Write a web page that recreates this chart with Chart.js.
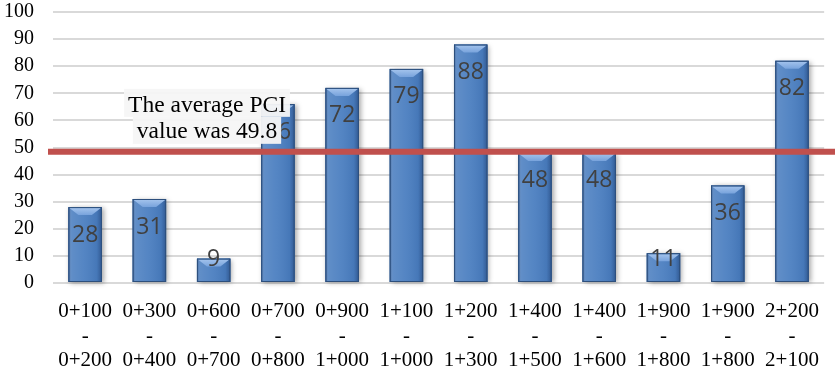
<!DOCTYPE html>
<html>
<head>
<meta charset="utf-8">
<script src="https://cdn.jsdelivr.net/npm/chart.js@4.4.0/dist/chart.umd.min.js"></script>
<style>
  html, body { margin: 0; padding: 0; background: #fff; }
  #wrap { width: 835px; height: 373px; position: relative; }
</style>
</head>
<body>
<div id="wrap"><canvas id="pciChart"></canvas></div>
<script>
// road sections (start - end) and PCI value of each
const sections = [
  ["0+100", "-", "0+200"], ["0+300", "-", "0+400"], ["0+600", "-", "0+700"],
  ["0+700", "-", "0+800"], ["0+900", "-", "1+000"], ["1+100", "-", "1+000"],
  ["1+200", "-", "1+300"], ["1+400", "-", "1+500"], ["1+400", "-", "1+600"],
  ["1+900", "-", "1+800"], ["1+900", "-", "1+800"], ["2+200", "-", "2+100"]
];
const pciValues = [28, 31, 9, 66, 72, 79, 88, 48, 48, 11, 36, 82];
const yMin = 0;
const yMax = 100;
const yStep = 10;
// red reference line (drawn where the picture shows it) and its note
const averageLine = 48.4;
const averageNote = ["The average PCI", "value was 49.8"];

const serif = "'Liberation Serif', 'Times New Roman', serif";

// shading, bevel and shadow on top of the plain bars
const barLook = {
  id: "barLook",
  beforeDatasetsDraw(chart) {
    const ctx = chart.ctx;
    const meta = chart.getDatasetMeta(0);
    ctx.save();
    ctx.shadowColor = "rgba(0,0,0,0.35)";
    ctx.shadowBlur = 5;
    ctx.shadowOffsetX = 2;
    ctx.shadowOffsetY = 1;
    ctx.fillStyle = "#3b679e";
    meta.data.forEach((bar) => {
      const left = bar.x - bar.width / 2;
      ctx.fillRect(left, bar.y, bar.width, bar.base - bar.y);
    });
    ctx.restore();
  },
  afterDatasetsDraw(chart) {
    const ctx = chart.ctx;
    const meta = chart.getDatasetMeta(0);
    ctx.save();
    meta.data.forEach((bar) => {
      const left = bar.x - bar.width / 2;
      const right = bar.x + bar.width / 2;
      const h = bar.base - bar.y;
      // side shading
      const g = ctx.createLinearGradient(left, 0, right, 0);
      g.addColorStop(0, "rgba(20,45,90,0.45)");
      g.addColorStop(0.1, "rgba(255,255,255,0.12)");
      g.addColorStop(0.45, "rgba(255,255,255,0.06)");
      g.addColorStop(0.85, "rgba(20,45,90,0.08)");
      g.addColorStop(1, "rgba(20,45,90,0.45)");
      ctx.fillStyle = g;
      ctx.fillRect(left, bar.y, bar.width, h);
      // top bevel
      const bev = Math.min(8, h / 2);
      const tg = ctx.createLinearGradient(0, bar.y, 0, bar.y + bev);
      tg.addColorStop(0, "#a7c6ee");
      tg.addColorStop(1, "#78a3dc");
      ctx.fillStyle = tg;
      ctx.beginPath();
      ctx.moveTo(left + 1, bar.y + 1);
      ctx.lineTo(right - 1, bar.y + 1);
      ctx.lineTo(right - 10, bar.y + bev);
      ctx.lineTo(left + 10, bar.y + bev);
      ctx.closePath();
      ctx.fill();
      ctx.strokeStyle = "#2d4f7c";
      ctx.lineWidth = 1;
      ctx.strokeRect(left + 0.5, bar.y + 0.5, bar.width - 1, h - 1);
    });

    // value labels inside the bars
    ctx.fillStyle = "#404040";
    ctx.font = "23px 'Open Sans', sans-serif";
    ctx.textAlign = "center";
    ctx.textBaseline = "middle";
    meta.data.forEach((bar, i) => {
      const cy = Math.min(bar.y + 28, bar.base - 23);
      ctx.fillText(String(pciValues[i]), bar.x, cy);
    });

    // average line
    const area = chart.chartArea;
    const ly = chart.scales.y.getPixelForValue(averageLine);
    ctx.strokeStyle = "#c0504d";
    ctx.lineWidth = 6;
    ctx.beginPath();
    ctx.moveTo(area.left - 5, ly);
    ctx.lineTo(chart.width, ly);
    ctx.stroke();

    // note above the line
    const cx = area.left + 154;
    ctx.font = "23.5px " + serif;
    ctx.textBaseline = "alphabetic";
    const rows = [
      { text: averageNote[0], top: ly - 63, bottom: ly - 35, base: ly - 40 },
      { text: averageNote[1], top: ly - 35, bottom: ly - 8, base: ly - 14 }
    ];
    rows.forEach((r) => {
      const w = ctx.measureText(r.text).width + 8;
      ctx.fillStyle = "rgba(245,245,245,0.95)";
      ctx.fillRect(cx - w / 2, r.top, w, r.bottom - r.top);
    });
    ctx.fillStyle = "#000";
    rows.forEach((r) => ctx.fillText(r.text, cx, r.base));
    ctx.restore();
  }
};

const ctxPci = document.getElementById("pciChart").getContext("2d");
const pciChart = new Chart(ctxPci, {
  type: "bar",
  data: {
    labels: sections,
    datasets: [
      {
        data: pciValues,
        backgroundColor: "#4a7ec0",
        borderWidth: 0,
        categoryPercentage: 1,
        barPercentage: 0.52
      }
    ]
  },
  options: {
    responsive: true,
    maintainAspectRatio: false,
    animation: false,
    layout: { padding: { top: 0, right: 2, left: 0, bottom: 0 } },
    plugins: {
      legend: { display: false },
      tooltip: { enabled: false }
    },
    scales: {
      x: {
        grid: { display: false, drawTicks: false },
        border: { display: false },
        ticks: {
          color: "#000",
          font: { family: serif, size: 21, lineHeight: 1.18 },
          padding: 16,
          maxRotation: 0,
          autoSkip: false
        },
        afterFit(scale) { scale.height = 90; }
      },
      y: {
        min: yMin,
        max: yMax,
        grid: { color: "#d9d9d9", lineWidth: 2, drawTicks: false },
        border: { display: false },
        ticks: {
          stepSize: yStep,
          autoSkip: false,
          color: "#000",
          font: { family: serif, size: 20 },
          padding: 19
        },
        afterFit(scale) {
          scale.width = 53;
          scale.paddingTop = 12;
          scale.paddingBottom = 0;
        }
      }
    }
  },
  plugins: [barLook]
});
</script>
</body>
</html>
